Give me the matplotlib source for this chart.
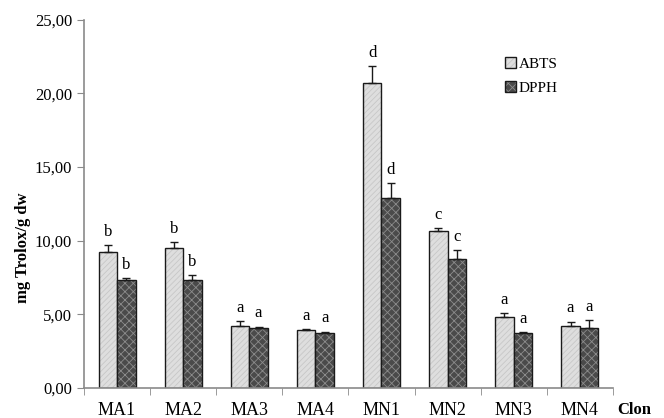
import numpy as np
import matplotlib.pyplot as plt

plt.rcParams['font.family'] = ['Liberation Serif', 'DejaVu Serif']
plt.rcParams['hatch.linewidth'] = 0.6

clones = ['MA1', 'MA2', 'MA3', 'MA4', 'MN1', 'MN2', 'MN3', 'MN4']
abts = [9.2, 9.5, 4.2, 3.9, 20.7, 10.67, 4.8, 4.23]
abts_err = [0.5, 0.4, 0.35, 0.07, 1.15, 0.2, 0.27, 0.27]
dpph = [7.35, 7.3, 4.1, 3.7, 12.9, 8.75, 3.72, 4.1]
dpph_err = [0.08, 0.35, 0.06, 0.12, 1.0, 0.6, 0.06, 0.5]
abts_letters = ['b', 'b', 'a', 'a', 'd', 'c', 'a', 'a']
dpph_letters = ['b', 'b', 'a', 'a', 'd', 'c', 'a', 'a']

fig = plt.figure(figsize=(6.64, 4.18), dpi=100)
ax = fig.add_axes([0.1265, 0.072, 0.7965, 0.881])

x = np.arange(len(clones)) + 0.5
w = 0.28
spine_col = '#8a8a8a'

b1 = ax.bar(x - w / 2, abts, w, color='#dedede', edgecolor='#1a1a1a', linewidth=1.0,
            hatch='//////', label='ABTS', zorder=2)
b2 = ax.bar(x + w / 2, dpph, w, color='#4a4a4a', edgecolor='#1a1a1a', linewidth=1.0,
            hatch='xxxx', label='DPPH', zorder=2)
for bar in b1:
    bar._hatch_color = (0.78, 0.78, 0.78, 1)
for bar in b2:
    bar._hatch_color = (0.55, 0.55, 0.55, 1)

ax.errorbar(x - w / 2, abts, yerr=[np.zeros(8), abts_err], fmt='none', ecolor='#1a1a1a',
            elinewidth=1.0, capsize=3, capthick=1.0, zorder=3)
ax.errorbar(x + w / 2, dpph, yerr=[np.zeros(8), dpph_err], fmt='none', ecolor='#1a1a1a',
            elinewidth=1.0, capsize=3, capthick=1.0, zorder=3)

for i in range(len(clones)):
    ax.text(x[i] - w / 2, abts[i] + abts_err[i] + 0.35, abts_letters[i], ha='center',
            va='bottom', fontsize=12)
    ax.text(x[i] + w / 2, dpph[i] + dpph_err[i] + 0.35, dpph_letters[i], ha='center',
            va='bottom', fontsize=12)

ax.set_xlim(0, 8)
ax.set_ylim(0, 25)
ax.set_yticks(np.arange(0, 26, 5))
ax.set_yticklabels([f'{v:.2f}'.replace('.', ',') for v in np.arange(0, 26, 5)], fontsize=12)
ax.set_xticks(x)
ax.set_xticklabels(clones, fontsize=13)
ax.set_xticks(np.arange(0, 9), minor=True)
ax.tick_params(axis='x', which='major', length=0, pad=10)
ax.tick_params(axis='x', which='minor', length=5, direction='out', color=spine_col)
ax.tick_params(axis='y', length=5, direction='out', color=spine_col)

for s in ['top', 'right']:
    ax.spines[s].set_visible(False)
for s in ['left', 'bottom']:
    ax.spines[s].set_color(spine_col)
    ax.spines[s].set_linewidth(1.2)

ax.set_ylabel('mg Trolox/g dw', fontsize=12, fontweight='bold')
ax.yaxis.set_label_coords(-0.10, 0.38)
fig.text(0.929, 0.01, 'Clon', fontsize=12, fontweight='bold')

ax.legend(loc='upper left', bbox_to_anchor=(0.77, 0.935), frameon=False, fontsize=11,
          handlelength=0.7, handleheight=0.7, handletextpad=0.2, labelspacing=0.65)

fig.savefig('out.png', dpi=100)
